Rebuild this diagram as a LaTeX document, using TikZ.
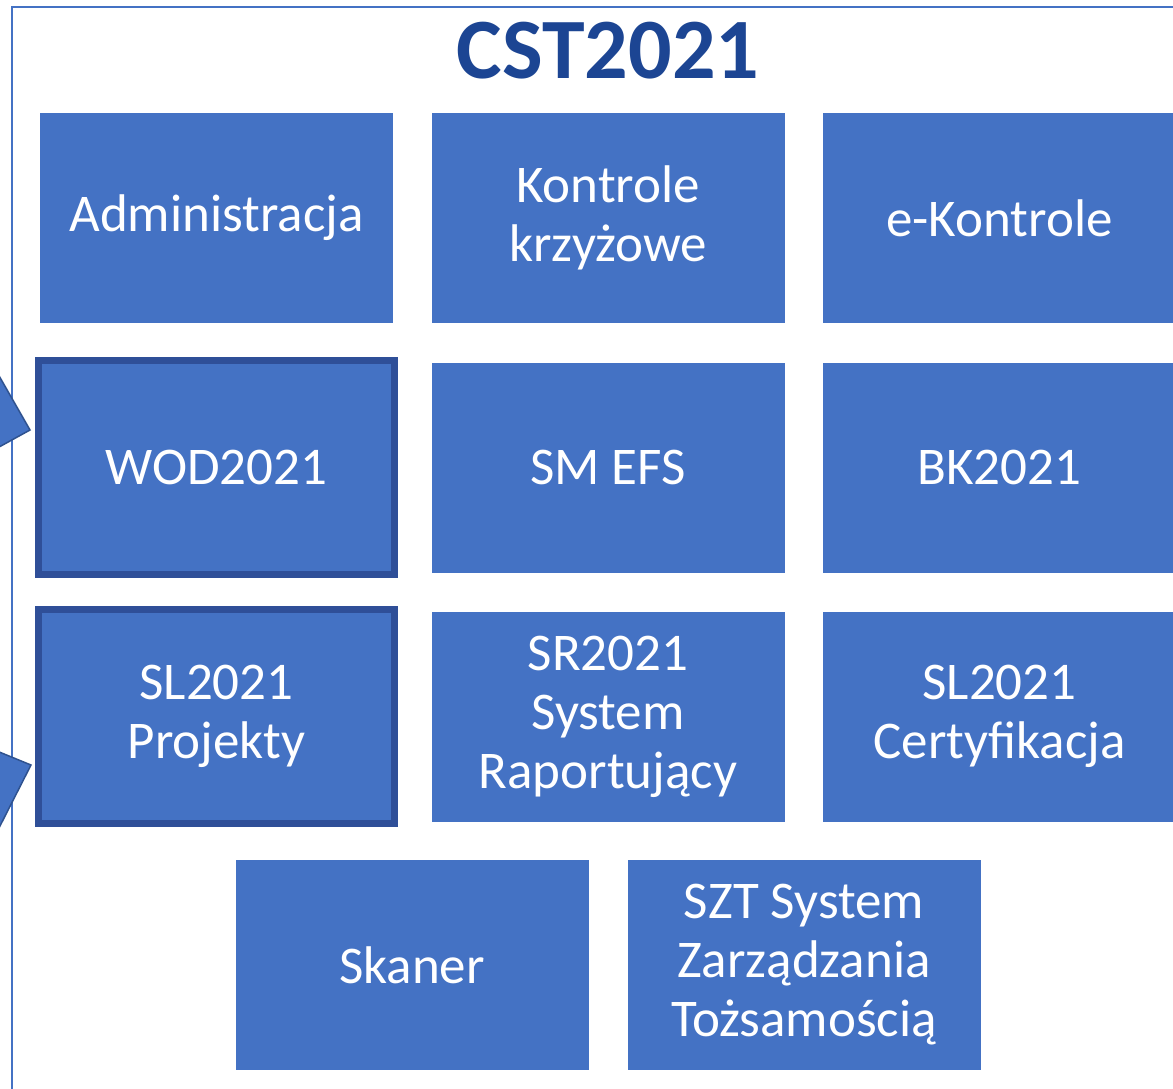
\documentclass[tikz,border=0pt]{standalone}
\usepackage{fontspec}
\setmainfont{Carlito}
\usetikzlibrary{calc}
\definecolor{boxblue}{HTML}{4472C4}
\definecolor{darkblue}{HTML}{2F4F98}
\definecolor{titleblue}{HTML}{1C4593}
\definecolor{arrowedge}{HTML}{2F528F}
\begin{document}
\begin{tikzpicture}[x=1pt,y=-1pt,
  box/.style={fill=boxblue, minimum width=353pt, minimum height=210pt, inner sep=0pt,
    text=white, font=\fontsize{53}{59}\selectfont, align=center},
  hlbox/.style={box, draw=darkblue, line width=7pt, minimum width=356pt, minimum height=214pt},
  headarrow/.style={fill=boxblue, draw=arrowedge, line width=1.5pt, line join=miter},
  frame/.style={draw=boxblue, line width=2.5pt}]
\useasboundingbox (0,0) rectangle (1173,1088);
\clip (0,0) rectangle (1173,1088);
\draw[frame] (12,7) rectangle (1200,1110);
\node[font=\fontsize{86}{100}\selectfont\bfseries, text=titleblue, inner sep=0pt] (title) at (608,51) {CST2021};
% row 1
\node[box] (adm) at (216.5,218) {Administracja};
\node[box] (kk) at (608,218) {Kontrole\\krzyżowe};
\node[box] (ek) at (999.5,218) {e-Kontrole};
% row 2
\node[hlbox] (wod) at (216.5,467.5) {WOD2021};
\node[box] (smefs) at (608,467.5) {SM EFS};
\node[box] (bk) at (999.5,467.5) {BK2021};
% row 3
\node[hlbox] (slp) at (216.5,716.5) {SL2021\\Projekty};
\node[box] (sr) at (608,716.5) {SR2021\\System\\Raportujący};
\node[box] (slc) at (999.5,716.5) {SL2021\\Certyfikacja};
% row 4
\node[box] (skan) at (412,965) {Skaner};
\node[box] (szt) at (804,965) {SZT System\\Zarządzania\\Tożsamością};
% incoming arrows (heads only visible)
\coordinate (t1) at ($(wod.west)+(-5,-37.5)$);
\coordinate (t2) at ($(slp.west)+(-4,48.5)$);
\draw[headarrow] (-30,325) -- (t1) -- (-30,463) -- cycle;
\draw[headarrow] (-30,740) -- (t2) -- (-30,885) -- cycle;
\end{tikzpicture}
\end{document}
